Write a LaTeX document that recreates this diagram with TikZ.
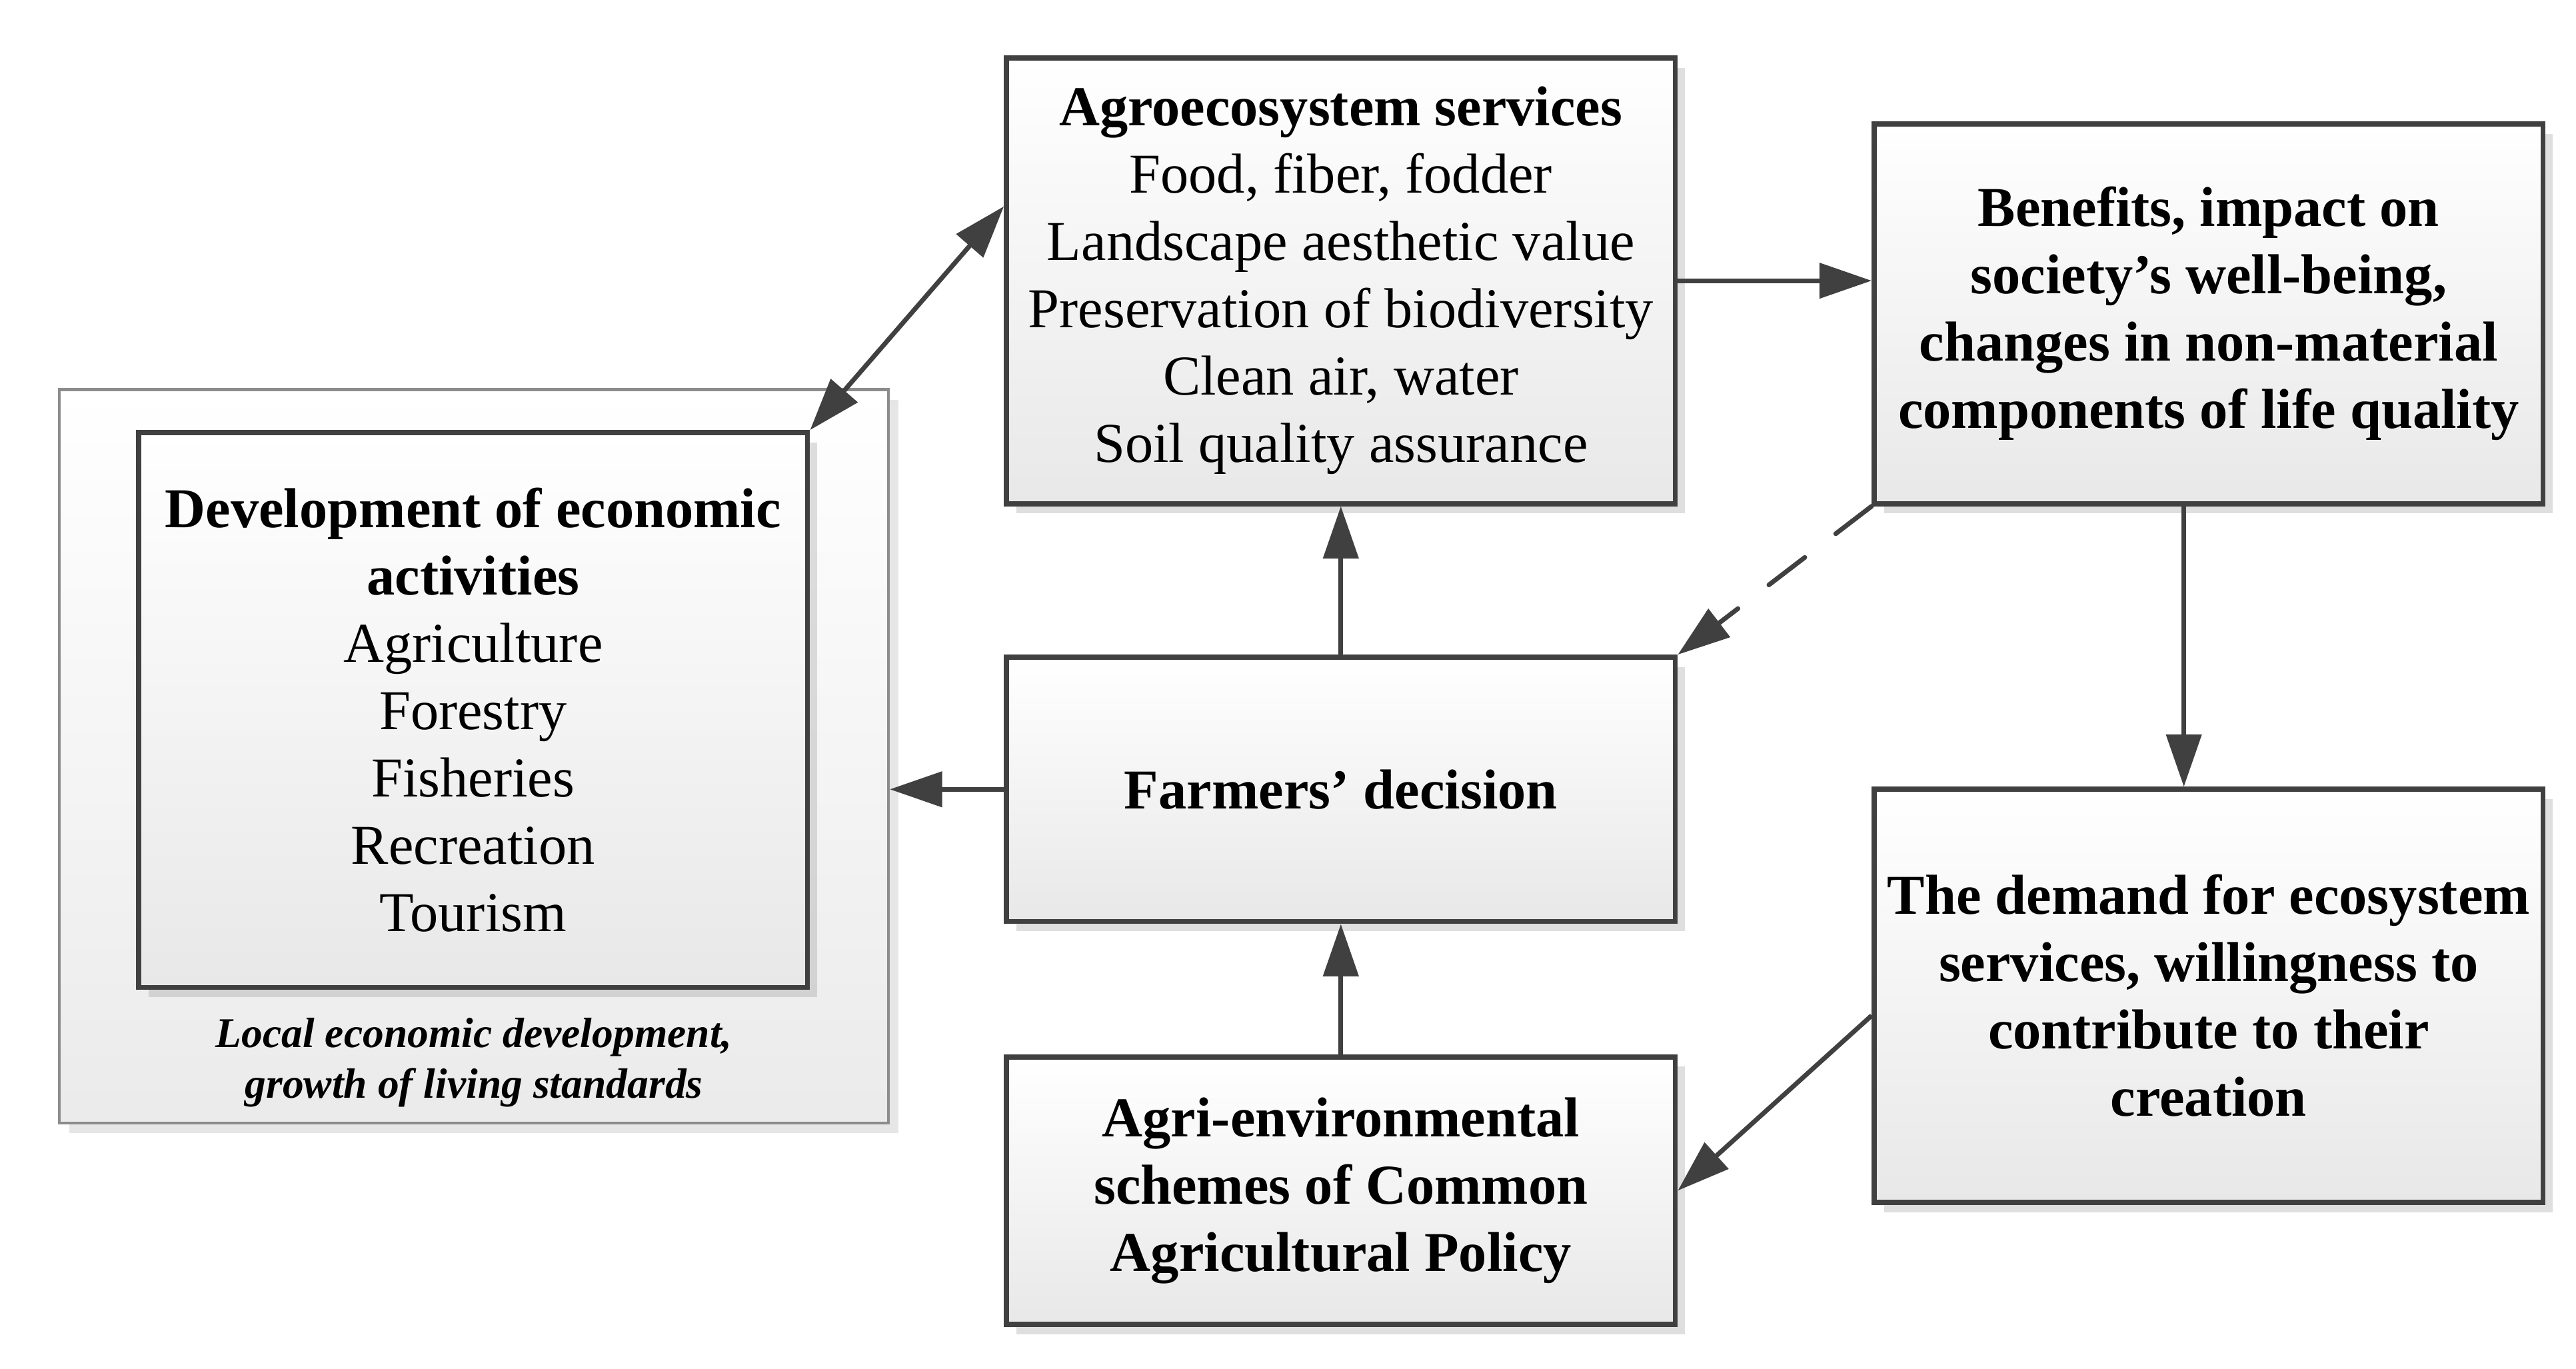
\documentclass[tikz,border=0pt]{standalone}
\usepackage{fontspec}
\setmainfont{Liberation Serif}
\usepackage{xcolor}
\usepackage{tikz}
\usetikzlibrary{positioning,calc,shadows,arrows.meta}
\definecolor{myline}{HTML}{404040}
\pgfkeys{tikz/myboxenv/.style={font=\fontsize{9.7}{11.6}\selectfont,>={Triangle[length=9pt,width=6pt]}}}
\pgfkeys{tikz/mybox/.style={draw=myline,line width=0.9pt,top color=white,bottom color=black!9,drop shadow={shadow xshift=0.6mm,shadow yshift=-0.6mm,opacity=0.25},align=center,inner sep=0pt,minimum width=4.05cm}}
\pgfkeys{tikz/myouterbox/.style={draw=black!45,line width=0.5pt,top color=white,bottom color=black!8,drop shadow={shadow xshift=0.6mm,shadow yshift=-0.6mm,opacity=0.2},inner sep=0pt,minimum width=5.02cm,minimum height=4.44cm}}
\pgfkeys{tikz/myarrow/.style={->,draw=myline,line width=0.8pt}}
\newcommand\mylabelfont{\fontsize{7.3}{8.8}\selectfont\bfseries\itshape}

\begin{document}
\begin{tikzpicture}[myboxenv]
    \useasboundingbox (0,0) rectangle (15.6,8.29);
    \node[myouterbox] (outer) at (2.87,3.71) {};
    \node[mybox,minimum height=3.36cm] (dev) at (2.865,3.99) {\textbf{Development of economic}\\ \textbf{activities}\\ Agriculture\\ Forestry\\ Fisheries\\ Recreation\\ Tourism};
    \node[align=center,font=\mylabelfont] (devlabel) at (2.87,1.855) {Local economic development,\\ growth of living standards};
    \node[mybox,minimum height=2.70cm] (agro) at (8.12,6.59) {\textbf{Agroecosystem services}\\ Food, fiber, fodder\\ Landscape aesthetic value\\ Preservation of biodiversity\\ Clean air, water\\ Soil quality assurance};
    \node[mybox,minimum height=2.30cm,font=\fontsize{9.7}{11.6}\selectfont\bfseries] (benef) at (13.375,6.39) {Benefits, impact on\\ society’s well-being,\\ changes in non-material\\ components of  life quality};
    \node[mybox,minimum height=1.60cm,font=\fontsize{9.7}{11.6}\selectfont\bfseries] (farm) at (8.12,3.51) {Farmers’ decision};
    \node[mybox,minimum height=1.62cm,font=\fontsize{9.7}{11.6}\selectfont\bfseries] (agri) at (8.12,1.08) {Agri-environmental\\ schemes of Common\\ Agricultural Policy};
    \node[mybox,minimum height=2.50cm,font=\fontsize{9.7}{11.6}\selectfont\bfseries] (demand) at (13.375,2.26) {The demand for ecosystem\\ services, willingness to\\ contribute to their\\ creation};
    % connectors
    \draw[myarrow,<->] (dev.north east) -- ($(agro.west)+(0,0.45)$);
    \draw[myarrow] (agro.east) -- (agro.east -| benef.west);
    \draw[myarrow,dash pattern=on 7.8pt off 6.7pt,line cap=round] (benef.south west) -- (farm.north east);
    \draw[myarrow] ($(benef.south)+(-0.15,0)$) coordinate (bs) -- (bs |- demand.north);
    \draw[myarrow] ($(demand.west)+(0,-0.12)$) -- (agri.east);
    \draw[myarrow] (agri.north) -- (farm.south);
    \draw[myarrow] (farm.north) -- (agro.south);
    \draw[myarrow] (farm.west) -- (farm.west -| outer.east);
\end{tikzpicture}
\end{document}
